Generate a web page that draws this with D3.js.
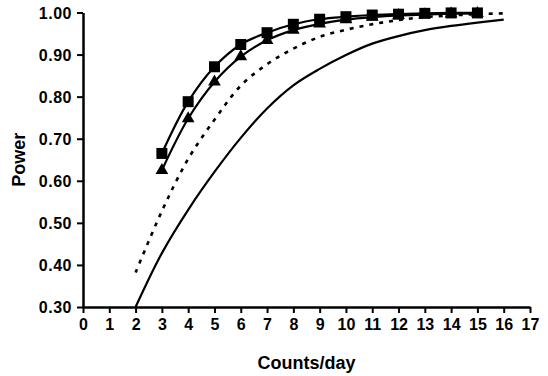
<!DOCTYPE html>
<html>
<head>
<meta charset="utf-8">
<script src="https://cdn.jsdelivr.net/npm/d3@7"></script>
<style>
  html, body { margin: 0; padding: 0; background: #fff; }
  svg { display: block; }
  text { font-family: "Liberation Sans", Arial, Helvetica, sans-serif; font-weight: bold; fill: #000; }
</style>
</head>
<body>
<svg id="chart" width="548" height="376"></svg>
<script>
// ---- Data ----
const xTicks = [0,1,2,3,4,5,6,7,8,9,10,11,12,13,14,15,16,17];
const yTicks = [0.30,0.40,0.50,0.60,0.70,0.80,0.90,1.00];

const squareX = [3,4,5,6,7,8,9,10,11,12,13,14,15];
const squareY = [0.665,0.788,0.871,0.924,0.952,0.972,0.984,0.990,0.994,0.996,0.998,0.999,0.999];

const triangleX = [3,4,5,6,7,8,9,10,11,12,13,14,15];
const triangleY = [0.625,0.748,0.835,0.895,0.934,0.958,0.973,0.983,0.989,0.993,0.995,0.997,0.998];

const dashedX = [2,3,4,5,6,7,8,9,10,11,12,13,14,15,16];
const dashedY = [0.382,0.528,0.652,0.745,0.826,0.877,0.914,0.942,0.959,0.972,0.982,0.989,0.993,0.996,0.998];

const solidX = [2,3,4,5,6,7,8,9,10,11,12,13,14,15,16];
const solidY = [0.300,0.428,0.531,0.621,0.702,0.772,0.827,0.866,0.899,0.926,0.944,0.958,0.968,0.976,0.983];

const xTitle = "Counts/day";
const yTitle = "Power";

// ---- Chart ----
const svg = d3.select("#chart");
const x = d3.scaleLinear().domain([0,17]).range([83,530]);
const y = d3.scaleLinear().domain([0.30,1.00]).range([307,12.5]);

const zip = (xs, ys) => xs.map((v,i) => [v, ys[i]]);
const line = d3.line().x(d => x(d[0])).y(d => y(d[1])).curve(d3.curveCatmullRom.alpha(0.5));

// axes
const yAxis = svg.append("g").attr("transform", `translate(${x(0)},0)`)
  .call(d3.axisLeft(y).tickValues(yTicks).tickSize(6).tickSizeOuter(0).tickFormat(d3.format(".2f")));
const xAxis = svg.append("g").attr("transform", `translate(0,${y(0.30)})`)
  .call(d3.axisBottom(x).tickValues(xTicks).tickSize(6).tickSizeOuter(0).tickFormat(d3.format("d")));

[yAxis, xAxis].forEach(g => {
  g.select(".domain").attr("stroke", "#000").attr("stroke-width", 2.5);
  g.selectAll(".tick line").attr("stroke", "#000").attr("stroke-width", 2);
  g.selectAll(".tick text").attr("font-size", 16).attr("font-family", '"Liberation Sans", Arial, sans-serif').attr("font-weight", "bold").attr("fill", "#000");
});
yAxis.selectAll(".tick text").attr("x", -11).attr("dy", "0.36em").attr("letter-spacing", 0.5);
xAxis.selectAll(".tick text").attr("y", 12).attr("dy", "0.68em");

// lines
const plot = svg.append("g");
plot.append("path").datum(zip(solidX, solidY)).attr("d", line)
  .attr("fill", "none").attr("stroke", "#000").attr("stroke-width", 2.2);
plot.append("path").datum(zip(dashedX, dashedY)).attr("d", line)
  .attr("fill", "none").attr("stroke", "#000").attr("stroke-width", 2.6).attr("stroke-dasharray", "4,6");
plot.append("path").datum(zip(triangleX, triangleY)).attr("d", line)
  .attr("fill", "none").attr("stroke", "#000").attr("stroke-width", 2.2);
plot.append("path").datum(zip(squareX, squareY)).attr("d", line)
  .attr("fill", "none").attr("stroke", "#000").attr("stroke-width", 2.2);

// markers
plot.selectAll("path.tri").data(zip(triangleX, triangleY)).enter().append("path")
  .attr("class", "tri")
  .attr("d", d3.symbol().type(d3.symbolTriangle).size(70))
  .attr("transform", d => `translate(${x(d[0])},${y(d[1])})`)
  .attr("fill", "#000");
plot.selectAll("path.sq").data(zip(squareX, squareY)).enter().append("path")
  .attr("class", "sq")
  .attr("d", d3.symbol().type(d3.symbolSquare).size(121))
  .attr("transform", d => `translate(${x(d[0])},${y(d[1])})`)
  .attr("fill", "#000");

// titles
svg.append("text").attr("x", (x(0)+x(17))/2).attr("y", 369)
  .attr("text-anchor", "middle").attr("font-size", 18).text(xTitle);
svg.append("text").attr("transform", `translate(25,${(y(0.3)+y(1))/2}) rotate(-90)`)
  .attr("text-anchor", "middle").attr("font-size", 18).text(yTitle);
</script>
</body>
</html>
